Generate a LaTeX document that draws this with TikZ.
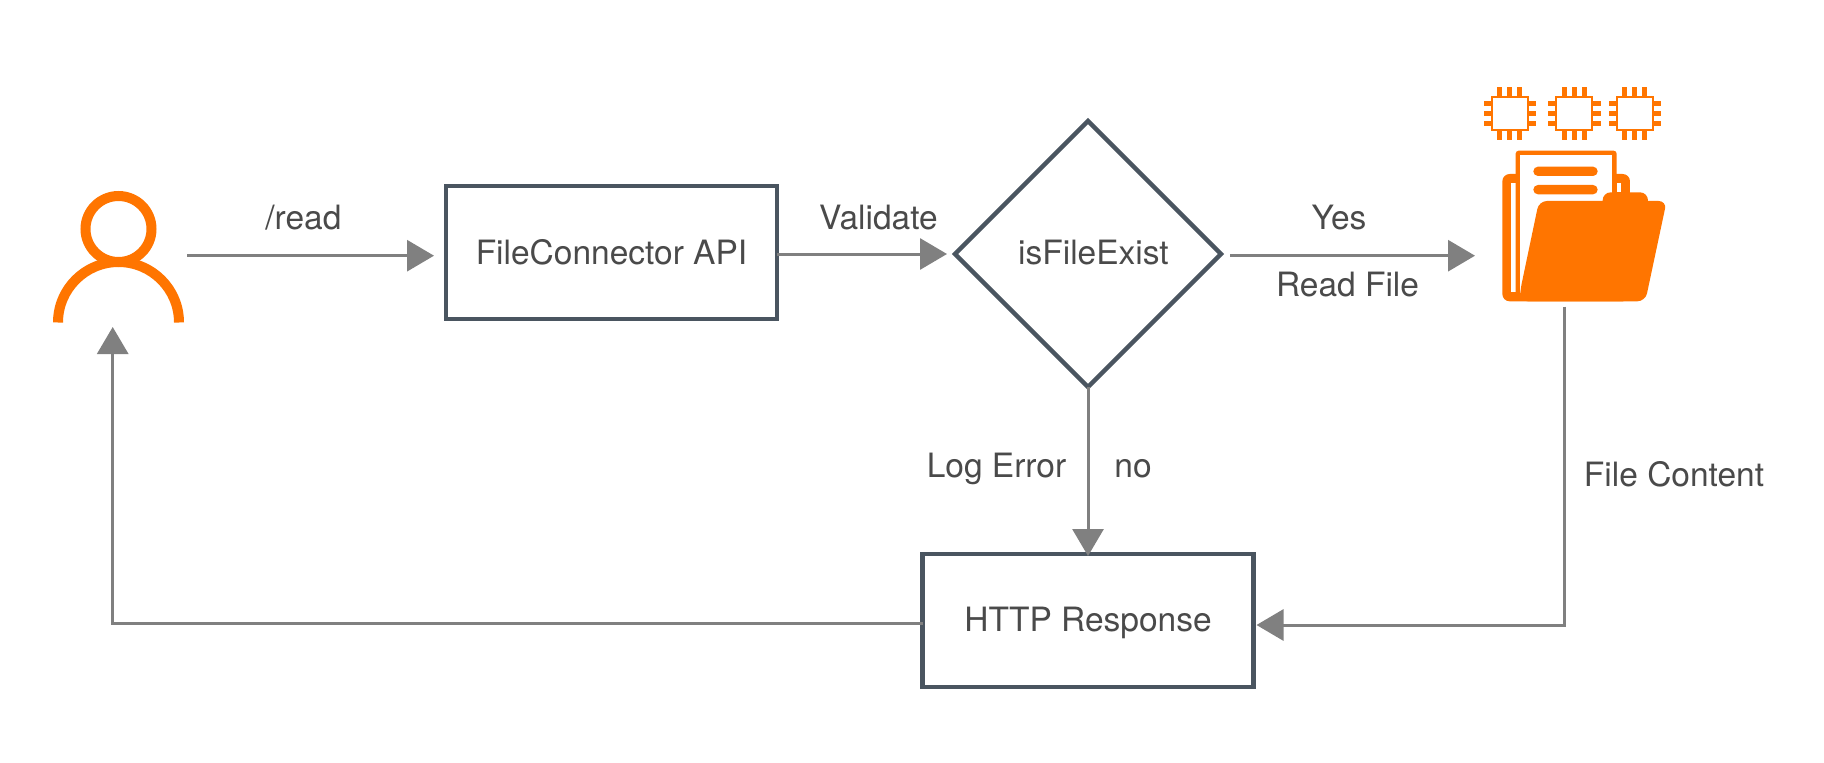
\documentclass[tikz,border=0pt]{standalone}
\usepackage{fontspec}
\setmainfont{TeX Gyre Heros}
\usetikzlibrary{arrows.meta,shapes.geometric}
\definecolor{boxline}{HTML}{4A5560}
\definecolor{conn}{HTML}{808080}
\definecolor{labeltxt}{HTML}{4A4A4A}
\definecolor{awsorange}{HTML}{FF7500}
\tikzset{
  every node/.style={text=labeltxt,font=\fontsize{33.5}{40}\selectfont,inner sep=0pt,outer sep=0pt},
  procbox/.style={draw=boxline,line width=4.3pt,fill=white,rectangle,minimum width=331pt,minimum height=133pt,text height=24pt,text depth=0pt},
  respbox/.style={procbox,text height=22pt},
  decision/.style={draw=boxline,line width=4.3pt,fill=white,diamond,aspect=1,minimum width=266pt,minimum height=266pt,text height=20pt,text depth=0pt},
  lbl/.style={anchor=base},
  flow/.style={draw=conn,line width=3pt,-{Triangle[length=27pt,width=31pt]}},
  orangeline/.style={draw=awsorange,line width=10pt},
  pin/.style={fill=awsorange},
}
\newcommand{\chipicon}[2]{%
  \begin{scope}[shift={(#1,#2)}]
    \foreach \d in {-10,0,10}{
      \fill[pin] (\d-2.5,-26.3) rectangle (\d+2.5,26.3);
      \fill[pin] (-26.3,\d-2.5) rectangle (26.3,\d+2.5);
    }
    \fill[awsorange] (-19,-17.5) rectangle (19,17.5);
    \fill[white] (-17,-15.5) rectangle (17,15.5);
  \end{scope}}
\begin{document}
\begin{tikzpicture}[x=1pt,y=-1pt]
\useasboundingbox (0,0) rectangle (1824,763);
\fill[white] (0,0) rectangle (1824,763);

% user icon
\draw[orangeline] (118.5,229) circle[radius=33pt];
\draw[orangeline] (58,322.5) arc[start angle=180,end angle=0,radius=60.5pt];

% chips
\chipicon{1509.8}{113.7}
\chipicon{1574.3}{113.7}
\chipicon{1634.8}{113.7}

% folder icon (zoom units: 1/3 px)
\begin{scope}[shift={(1470,70)},x=0.3333pt,y=-0.3333pt]
  \fill[awsorange,rounded corners=22*0.3333pt] (97,694) -- (97,312) -- (480,312) -- (480,694) -- cycle;
  \fill[white] (122,339) rectangle (137,666);
  \fill[white] (440,340) rectangle (453,366);
  \fill[awsorange,rounded corners=3pt] (137,690) -- (137,242) -- (440,242) -- (440,690) -- cycle;
  \fill[white] (150,256) rectangle (427,680);
  \fill[awsorange,rounded corners=4.6pt] (190,290) rectangle (383,318);
  \fill[awsorange,rounded corners=4.6pt] (190,345) rectangle (383,373);
  \fill[awsorange,rounded corners=8pt] (150,694) -- (150,665) -- (207,393) -- (590,393) -- (526,694) -- cycle;
  \fill[awsorange,rounded corners=8pt] (398,420) -- (398,367) -- (534,367) -- (534,420) -- cycle;
  \fill[awsorange] (110,670) rectangle (300,694);
\end{scope}

% process nodes
\node[procbox] (api) at (611.5,252.5) {FileConnector API};
\node[decision] (dec) at (1088,254) {\hspace*{11pt}isFileExist};
\node[respbox] (resp) at (1088,620.5) {HTTP Response};

% free-end anchors
\coordinate (userout) at (187,255.7);
\coordinate (userin) at (112.7,327);
\coordinate (folderin) at (1475,255.7);
\coordinate (folderout) at (1564.5,306.7);
\coordinate (folderelbow) at (1564.5,625);
\coordinate (respout) at (112.7,623);

% connectors
\draw[flow,shorten >=12pt] (userout) -- (userout -| api.west);
\draw[flow,shorten >=8pt] (api.east |- dec.west) -- (dec.west);
\draw[flow,shorten <=9pt] (dec.east |- folderin) -- (folderin);
\draw[flow,shorten >=-2pt] (dec.south) -- (dec.south |- resp.north);
\draw[flow,shorten >=3pt] (folderout) -- (folderelbow) -- (folderelbow -| resp.east);
\draw[flow] (resp.west |- respout) -- (respout) -- (userin);

% labels
\node[lbl] (l1) at (303.4,229) {/read};
\node[lbl] (l2) at (878.5,229) {Validate};
\node[lbl] (l3) at (1339,229) {Yes};
\node[lbl] (l4) at (1347.5,296.4) {Read File};
\node[lbl] (l5) at (996.5,477.5) {Log Error};
\node[lbl] (l6) at (1133,477.5) {no};
\node[lbl] (l7) at (1674,486.6) {File Content};
\end{tikzpicture}
\end{document}
